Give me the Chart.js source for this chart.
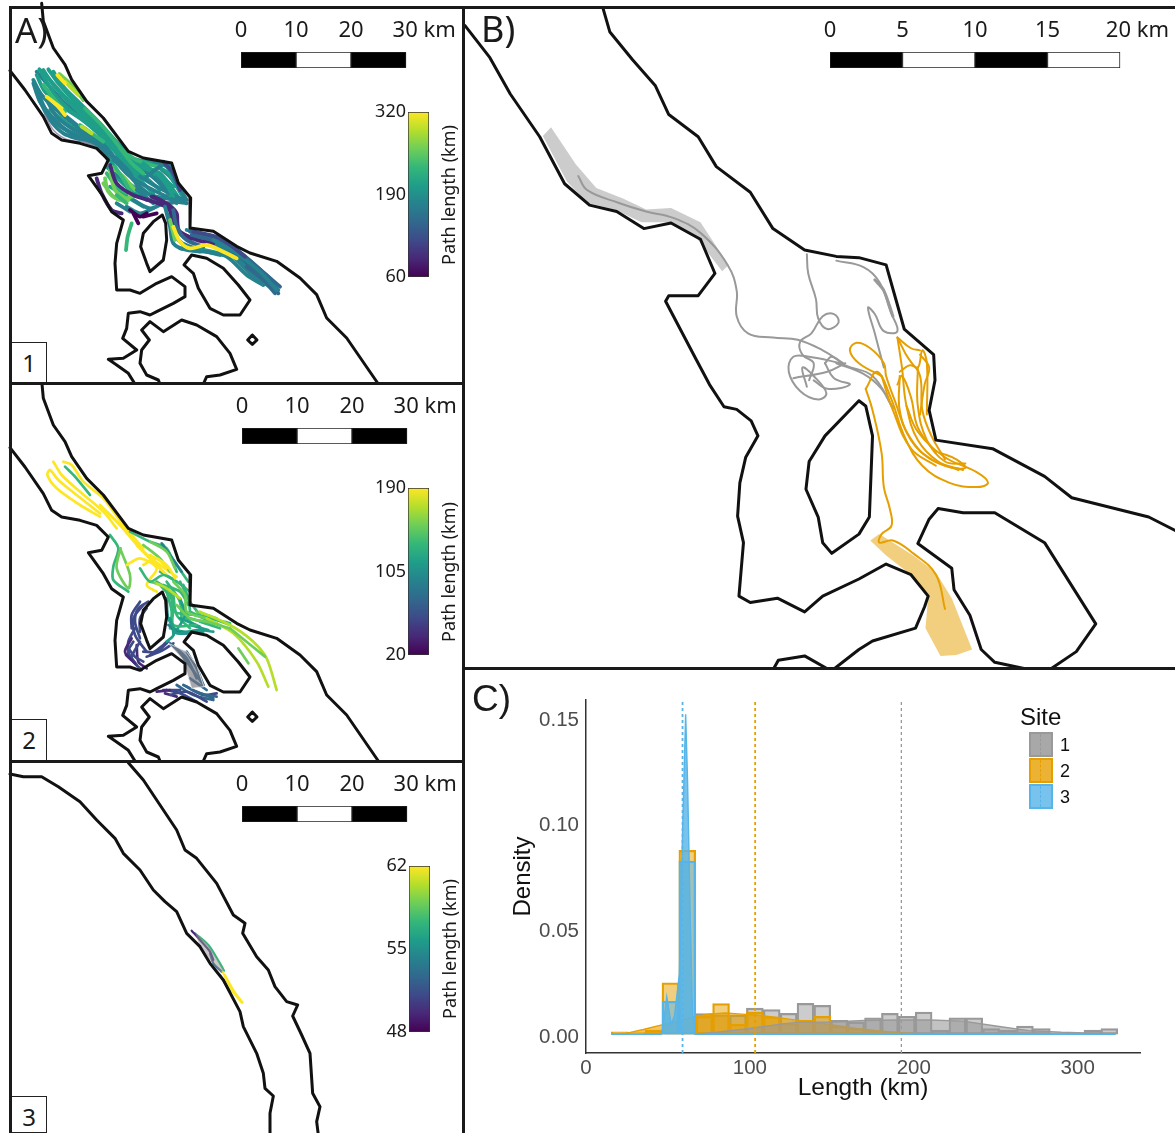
<!DOCTYPE html>
<html>
<head>
<meta charset="utf-8">
<title>Path lengths</title>
<script src="https://cdn.jsdelivr.net/npm/chart.js@4/dist/chart.umd.js"></script>
<style>
  html, body { margin: 0; padding: 0; background: #fff; width: 1175px; height: 1133px; overflow: hidden; }
  canvas { position: absolute; }
  .rule { position: absolute; background: #1a1a1a; }
  .txt { position: absolute; white-space: nowrap; font-family: "Noto Sans", sans-serif; color: #1a1a1a; line-height: 1; }
  .inset { position: absolute; width: 36px; background: #fff; border: 1px solid #222; box-sizing: border-box; }
  .key { position: absolute; left: 1029px; width: 24px; height: 25px; box-sizing: border-box; border-width: 2px; border-style: solid; }
  .key i { position: absolute; left: 9px; top: 0; bottom: 0; border-left-width: 1px; border-left-style: dashed; }
</style>
</head>
<body>
<script>
// ---- map outlines, in map grid units ----
const coastEast = [[125,10],[130,64],[160,144],[195,194],[215,239],[260,304],[310,354],[385,454],[430,474],[515,489],[535,549],[572,594],[570,684],[640,694],[710,739],[750,759],[830,784],[900,834],[950,884],[980,954],[1040,1014],[1135,1152]];
const coastWest = [[30,212],[75,270],[130,350],[155,400],[185,420],[240,430],[290,445],[325,480],[305,520],[265,527],[310,590],[335,635],[370,660],[350,730],[345,790],[350,870],[390,870],[420,880],[470,850],[515,830],[555,860],[555,890],[520,910],[470,935],[450,945],[420,935],[385,940],[380,985],[368,1015],[410,1050],[370,1075],[325,1078],[350,1095],[385,1120],[405,1152]];
const coastSouth = [[610,1152],[620,1130],[660,1125],[710,1108],[690,1060],[650,1010],[590,975],[545,960],[490,995],[450,965],[425,990],[448,1020],[425,1050],[420,1090],[440,1125],[475,1140],[480,1152]];
const islandNorth = [[487,645],[460,665],[430,700],[422,740],[440,790],[450,815],[490,780],[500,720],[497,670],[487,645]];
const islandEast = [[575,765],[552,795],[580,820],[595,865],[630,925],[670,945],[720,945],[750,900],[715,855],[670,805],[620,775],[575,765]];
const islet = [[757,1005],[743,1020],[757,1033],[771,1020],[757,1005]];

const site3West = [[30,42],[70,50],[125,50],[175,80],[240,125],[290,180],[345,235],[370,280],[420,330],[460,390],[495,425],[530,455],[560,520],[600,560],[630,610],[670,660],[720,755],[730,800],[770,880],[790,940],[795,985],[820,1008],[810,1060],[810,1125]];
const site3East = [[385,8],[430,60],[480,135],[530,210],[555,270],[590,295],[650,370],[700,465],[735,490],[728,520],[770,590],[805,630],[825,680],[860,725],[893,735],[878,768],[905,825],[930,880],[938,1000],[960,1040],[950,1085],[955,1125]];

const zoomEast = [[305,20],[320,75],[370,140],[420,200],[450,268],[515,320],[555,390],[630,450],[680,535],[750,585],[820,600],[870,603],[930,620],[970,770],[1035,830],[1038,890],[1025,960],[1040,1030],[1165,1050],[1280,1115],[1340,1165],[1510,1210],[1575,1245]];
const zoomWest = [[0,60],[55,135],[100,220],[165,320],[220,430],[275,480],[335,495],[395,535],[455,522],[520,560],[552,640],[515,692],[450,692],[443,705],[510,840],[540,900],[572,952],[600,958],[632,985],[647,1020],[620,1070],[607,1130],[602,1208],[615,1270],[605,1395],[630,1410],[690,1400],[750,1432],[790,1395],[870,1355],[930,1320],[985,1345],[1023,1395],[1015,1420],[995,1470],[900,1500],[870,1520],[812,1568]];
const zoomSouth = [[680,1568],[692,1545],[750,1535],[805,1568]];
const zoomIslandN = [[870,938],[795,1020],[760,1080],[753,1145],[780,1210],[790,1270],[810,1295],[870,1250],[893,1210],[900,1020],[885,950],[870,938]];
const zoomIslandE = [[1045,1190],[1025,1215],[1000,1272],[1075,1330],[1080,1380],[1115,1440],[1140,1520],[1170,1550],[1250,1568],[1290,1568],[1350,1525],[1393,1460],[1280,1270],[1170,1200],[1100,1200],[1045,1190]];

// ---- panel A1 tracks: [path length km, path], later entries sit on top ----
const a1Tracks = [
  [188,[[110,215],[140,250],[185,300],[235,345],[290,395],[340,440]]],
  [192,[[130,210],[160,255],[205,305],[260,350],[315,400],[370,465],[420,500]]],
  [180,[[100,250],[120,305],[155,350],[205,395],[260,420],[310,450]]],
  [175,[[118,300],[150,360],[190,400],[245,420],[300,440]]],
  [200,[[160,215],[190,260],[240,310],[290,360],[345,420],[400,480]]],
  [188,[[200,350],[250,390],[300,420],[350,480],[400,540]]],
  [195,[[150,330],[195,365],[250,405],[300,445],[345,500]]],
  [192,[[220,320],[270,370],[320,420],[370,485],[420,540]]],
  [190,[[320,500],[380,560],[440,600]]],
  [185,[[345,520],[400,560],[460,610]]],
  [195,[[360,490],[420,520],[480,570]]],
  [190,[[400,480],[450,510],[510,580]]],
  [185,[[460,490],[510,530],[550,590]]],
  [190,[[330,560],[380,590],[430,620]]],
  [180,[[400,600],[450,625],[490,610]]],
  [185,[[380,620],[420,640],[460,625]]],
  [175,[[350,610],[390,635]]],
  [180,[[470,530],[520,600],[560,610]]],
  [190,[[420,500],[470,540],[530,610]]],
  [185,[[340,480],[380,510],[420,560],[470,600]]],
  [192,[[430,500],[480,520],[520,570],[540,600]]],
  [188,[[400,500],[450,525],[500,570]]],
  [180,[[440,480],[500,500],[530,560]]],
  [195,[[380,490],[420,540],[460,580]]],
  [185,[[350,470],[390,520],[430,590]]],
  [180,[[420,590],[480,610],[545,605]]],
  [165,[[510,640],[520,700],[550,735]]],
  [170,[[530,650],[540,700],[580,730]]],
  [175,[[560,690],[620,705],[680,735]]],
  [165,[[590,710],[650,735],[700,760]]],
  [170,[[545,730],[600,750],[660,765]]],
  [175,[[680,750],[730,790],[790,840]]],
  [165,[[700,770],[750,820],[810,860]]],
  [170,[[730,770],[780,810],[835,870]]],
  [160,[[740,800],[790,840],[825,880]]],
  [170,[[650,720],[720,760],[790,820]]],
  [195,[[590,745],[660,760]]],
  [160,[[700,740],[760,790],[815,840]]],
  [200,[[540,745],[600,755]]],
  [190,[[118,208],[150,240],[190,285],[240,330],[300,385],[355,450],[410,495],[470,520],[520,560]]],
  [185,[[100,240],[125,285],[175,335],[225,375],[285,420],[335,470],[385,525],[440,560],[500,590]]],
  [180,[[108,262],[135,325],[175,375],[230,405],[285,430],[325,475]]],
  [198,[[110,225],[135,275],[180,315],[240,355],[300,405],[345,455],[400,510],[450,545]]],
  [170,[[140,300],[170,350],[215,385],[270,415],[320,460]]],
  [198,[[145,208],[175,250],[225,305],[280,355],[335,420],[385,470],[450,490],[505,520],[545,585]]],
  [205,[[125,220],[165,285],[215,335],[285,385],[345,445],[405,505],[440,535]]],
  [170,[[420,530],[470,560],[530,590],[555,600]]],
  [215,[[170,235],[205,280],[245,325],[295,370]]],
  [225,[[255,325],[305,375],[350,430],[395,490],[430,520]]],
  [235,[[240,375],[275,400],[310,425]]],
  [225,[[360,445],[410,480],[470,500]]],
  [255,[[335,500],[370,530],[405,570]]],
  [235,[[320,520],[350,560],[380,580]]],
  [225,[[345,500],[375,545],[400,590]]],
  [255,[[310,550],[340,590],[375,605]]],
  [265,[[315,535],[325,575],[360,600],[395,590]]],
  [255,[[330,510],[345,570],[385,600]]],
  [240,[[350,585],[380,610]]],
  [190,[[430,490],[490,540],[520,590]]],
  [180,[[410,570],[470,590],[530,600]]],
  [170,[[440,530],[500,490],[525,540],[560,600]]],
  [240,[[130,255],[165,300],[195,335]]],
  [270,[[178,222],[215,255],[250,300]]],
  [290,[[195,245],[235,285]]],
  [315,[[172,225],[195,250]]],
  [310,[[140,290],[165,310],[185,325]]],
  [315,[[175,320],[195,345]]],
  [300,[[245,380],[275,400]]],
  [110,[[490,485],[520,520],[540,570]]],
  [90,[[290,535],[305,580],[335,630],[365,640]]],
  [75,[[330,495],[350,550],[400,585],[460,605],[505,625],[520,660],[530,690],[575,715]]],
  [85,[[460,590],[500,610],[530,640],[535,690],[590,720],[640,730]]],
  [68,[[390,630],[420,650],[440,640]]],
  [62,[[400,640],[415,670]]],
  [65,[[430,650],[470,640]]],
  [78,[[455,590],[480,600],[505,620]]],
  [230,[[395,670],[383,710],[378,750]]],
  [180,[[495,620],[510,680],[520,730],[560,750],[620,755]]],
  [160,[[520,630],[530,680],[560,720],[610,740]]],
  [255,[[510,660],[525,720]]],
  [160,[[570,695],[640,710],[710,750],[770,800],[840,860]]],
  [135,[[575,705],[650,725],[720,770],[785,830],[835,880]]],
  [175,[[620,755],[680,770],[740,825],[790,855]]],
  [175,[[640,720],[710,760],[780,815],[830,870]]],
  [110,[[580,695],[660,715],[735,770]]],
  [310,[[520,680],[540,725],[570,745],[620,735],[670,755],[710,775]]]
];
const a1Shore = [[135,345],[160,390],[200,418],[260,428],[300,450],[325,490]];

// ---- panel A2 tracks ----
const a2Tracks = [
  [55,[[440,670],[420,700],[420,740]]],
  [60,[[420,650],[395,690],[395,730]]],
  [50,[[400,770],[385,800],[410,840]]],
  [45,[[410,780],[415,830],[440,850]]],
  [55,[[385,790],[405,815],[430,830]]],
  [65,[[450,810],[490,780],[500,770]]],
  [60,[[445,650],[415,670],[405,710],[420,760]]],
  [55,[[430,660],[400,700],[405,750],[440,800]]],
  [60,[[405,730],[385,770],[385,810]]],
  [45,[[395,760],[375,800],[395,825]]],
  [50,[[420,770],[395,820],[425,855]]],
  [55,[[430,800],[470,800],[505,770]]],
  [65,[[440,815],[480,800],[520,775]]],
  [35,[[378,810],[405,835]]],
  [120,[[500,640],[505,700],[530,740]]],
  [130,[[520,630],[530,690],[570,730]]],
  [125,[[540,650],[560,700],[610,735]]],
  [135,[[550,600],[570,650],[600,690]]],
  [115,[[515,730],[550,740],[610,740]]],
  [125,[[500,590],[540,650],[545,710]]],
  [140,[[540,590],[565,640],[570,680]]],
  [100,[[520,740],[560,745]]],
  [145,[[590,680],[650,700]]],
  [150,[[610,690],[690,720]]],
  [135,[[600,710],[660,730]]],
  [125,[[500,620],[515,680],[510,730]]],
  [115,[[540,640],[555,690],[520,750]]],
  [110,[[510,700],[520,750],[500,770]]],
  [95,[[505,720],[540,745],[590,740]]],
  [130,[[570,680],[610,700],[650,715]]],
  [140,[[570,700],[640,720]]],
  [120,[[540,700],[600,725]]],
  [105,[[570,720],[625,735]]],
  [135,[[490,480],[530,540],[565,590]]],
  [130,[[480,560],[530,590],[570,620]]],
  [140,[[490,600],[540,620],[565,660]]],
  [150,[[450,590],[490,605],[520,650]]],
  [80,[[510,775],[560,820],[590,880]]],
  [75,[[530,790],[575,850],[610,900]]],
  [70,[[560,800],[590,850],[610,900]]],
  [60,[[500,915],[540,925],[590,950]]],
  [70,[[530,900],[580,930],[640,945]]],
  [65,[[560,905],[610,930],[650,925]]],
  [40,[[495,925],[530,935]]],
  [80,[[590,920],[640,940]]],
  [60,[[510,930],[560,920],[620,950]]],
  [70,[[550,900],[600,925],[650,935]]],
  [50,[[490,915],[540,915]]],
  [80,[[570,880],[620,915]]],
  [40,[[470,920],[510,915]]],
  [185,[[300,395],[240,360],[170,310],[142,270],[150,255],[175,285],[230,330],[300,385]]],
  [185,[[160,230],[185,270],[240,320],[310,380],[350,430]]],
  [185,[[190,230],[215,240],[250,290],[310,340],[370,420],[430,490]]],
  [135,[[195,245],[225,275],[270,330]]],
  [185,[[300,360],[360,420],[420,490],[480,540],[530,575]]],
  [185,[[320,380],[380,440],[440,510],[500,570]]],
  [140,[[390,440],[450,470],[500,490],[530,560]]],
  [150,[[430,480],[480,520],[510,560]]],
  [90,[[485,475],[510,510],[545,560]]],
  [135,[[330,450],[355,490],[340,545],[340,585],[385,620]]],
  [145,[[360,490],[390,570],[385,610],[350,550],[362,490]]],
  [185,[[380,540],[420,520],[470,550],[440,600],[470,620]]],
  [130,[[420,550],[450,590],[490,570],[530,590]]],
  [185,[[410,480],[450,520],[490,560]]],
  [185,[[450,510],[500,540],[525,580]]],
  [185,[[430,540],[470,520],[500,550]]],
  [150,[[450,470],[500,500],[525,550]]],
  [135,[[470,590],[510,620],[525,680],[590,690],[690,715]]],
  [125,[[480,600],[520,650],[520,720],[590,720]]],
  [150,[[520,590],[555,630],[560,680],[620,700]]],
  [115,[[510,700],[530,745],[590,735],[640,740]]],
  [165,[[600,680],[690,720],[760,770],[800,820],[830,915]]],
  [165,[[620,700],[700,745],[770,830],[805,905]]],
  [145,[[690,730],[795,815]]],
  [160,[[715,790],[745,835]]],
  [160,[[530,660],[570,700],[620,710],[690,730]]],
  [165,[[470,595],[500,610],[540,640]]]
];
const a2Channel = [[505,775],[560,800],[590,840],[612,905],[575,910],[560,860],[545,820],[505,775]];

// ---- panel A3 tracks ----
const a3Tracks = [
  [58,[[585,520],[625,555],[660,610],[672,632]]],
  [52,[[630,580],[640,610],[665,635]]],
  [56,[[660,645],[690,695]]],
  [62,[[668,635],[695,690],[725,728]]],
  [62,[[675,645],[700,690],[728,728]]],
  [49,[[575,512],[600,540],[630,575],[640,600]]]
];
const a3Haze = [[585,518],[620,550],[672,630],[665,640],[630,600],[600,560],[585,518]];

// ---- panel B tracks ----
const siteGreyBand = [[190,298],[245,385],[290,440],[350,465],[400,490],[455,487],[520,520],[582,620],[568,635],[510,555],[450,520],[390,520],[330,490],[270,475],[225,425],[172,318],[190,298]];
const siteOrangeBand = [[915,1250],[990,1300],[1040,1340],[1075,1400],[1120,1520],[1085,1533],[1050,1535],[1017,1470],[1023,1395],[985,1345],[930,1300],[895,1265],[915,1250]];
const greyPaths = [
  [[250,412],[270,445],[340,475],[400,495],[460,510],[520,545],[580,620],[600,680],[600,740],[625,780],[680,790],[735,795],[790,820],[835,850]],
  [[755,595],[758,640],[775,700],[780,745],[800,770],[825,755],[815,735],[790,740],[765,780],[740,800],[745,830],[770,850],[760,890]],
  [[820,610],[880,625],[915,660],[940,730],[955,775],[925,775],[905,735],[890,720],[905,780],[925,860]],
  [[830,850],[760,835],[725,835],[715,870],[740,915],[780,935],[798,920],[770,880],[745,860],[755,905]],
  [[725,885],[800,870],[840,850]],
  [[795,850],[810,835],[840,855],[900,880],[945,955]],
  [[795,850],[815,885],[850,900],[800,910],[770,890]],
  [[820,850],[880,875],[920,910],[945,955]]
];
const greyShort = [[905,655],[925,680],[945,740]];
const orangePaths = [
  [[920,880],[870,850],[850,820],[865,802],[895,815],[925,850],[930,880],[950,940],[975,1010],[1010,1060],[1060,1090],[1105,1095],[1085,1075],[1050,1060]],
  [[955,790],[980,840],[1000,860],[1010,820],[1020,850],[1020,970]],
  [[955,790],[965,860],[975,950],[1000,1030],[1045,1080],[1100,1100]],
  [[960,870],[985,855],[1005,880],[1010,960],[1030,1020],[1060,1075]],
  [[885,910],[910,870],[940,930],[970,1020],[1010,1090],[1070,1130],[1130,1140],[1155,1130],[1130,1105],[1060,1070],[1000,1010],[975,950]],
  [[885,910],[900,960],[920,1060],[925,1140],[938,1190],[942,1230],[920,1250],[915,1270],[945,1265],[990,1295],[1040,1345],[1060,1425]],
  [[955,900],[965,880],[985,930],[1000,1000],[1040,1060]],
  [[1005,830],[1025,860],[1015,900],[1005,970]],
  [[1000,860],[1000,950],[1020,1030],[1060,1080],[1105,1085]],
  [[960,880],[960,960],[985,1030],[1030,1075],[1090,1100]],
  [[920,880],[945,960],[985,1050],[1040,1090]],
  [[955,790],[985,815],[1005,820]]
];

// ---- panel C histogram and density ----
const binCentres = [20.6,30.9,41.2,51.5,61.8,72.1,82.4,92.7,103,113.3,123.6,133.9,144.2,154.5,164.8,175.1,185.4,195.7,206,216.3,226.6,236.9,247.2,257.5,267.8,278.1,288.4,298.7,309,319.3];
const greyBins = [null,null,null,null,null,.0111,.0105,.0103,.0137,.0130,.0112,.0159,.0150,.0079,.0071,.0090,.0112,.0098,.0118,.0032,.0090,.0090,.0040,.0032,.0051,.0040,.0018,.0018,.0032,.0040];
const orangeBins = [.0024,.0021,.0032,.0256,.0883,.0098,.0158,.0060,.0118,.0095,.0063,.0079,.0098,.0050,.0040,.0030,.0025,.0020,.0015,null,null,null,null,null,null,null,null,null,null,null];
const blueBins = [null,null,null,.0169,.0833,null,null,null,null,null,null,null,null,null,null,null,null,null,null,null,null,null,null,null,null,null,null,null,null,null];
const greyDensityX = [66,80,100,120,130,150,170,190,210,230,250,270,290,310,323];
const greyDensityY = [.0013,.0022,.0040,.0062,.0070,.0071,.0078,.0080,.0080,.0075,.0052,.0030,.0022,.0018,.0014];
const orangeDensityX = [15.4,25,35,45,55,65,75,85,95,105,115,125,135,145,155,165,175,185,195,205,323];
const orangeDensityY = [.0013,.0018,.0035,.0055,.0072,.0095,.0108,.0113,.0108,.0103,.0093,.0083,.0073,.0063,.0052,.0040,.0032,.0024,.0018,.0013,.0013];
const blueDensityX = [15.4,45.9,47,49.3,52,54,57,59,60.8,62,63.5,65,67,323];
const blueDensityY = [.0013,.0013,.0050,.0190,.0060,.0100,.0300,.1000,.1528,.1200,.0600,.0100,.0013,.0013];
const meanLengths = [192.4,103.2,58.9];
const densityBase = .0013;
const lengthTicks = [0,100,200,300];
const densityTicks = [0,.05,.1,.15];
const siteNames = ['1','2','3'];
const siteLine = ['#999999','#E69F00','#56B4E9'];
const siteHist = ['rgba(153,153,153,.5)','rgba(230,159,0,.5)','rgba(86,180,233,.5)'];
const siteDensity = ['rgba(153,153,153,.6)','rgba(230,159,0,.6)','rgba(86,180,233,.8)'];
const siteKey = ['rgba(153,153,153,.85)','rgba(230,159,0,.8)','rgba(86,180,233,.8)'];

const viridis = ['#440154','#482878','#3e4a89','#31688e','#26828e','#1f9e89','#35b779','#6ece58','#b5de2b','#fde725'];

Chart.defaults.font.family = '"Noto Sans", sans-serif';
Chart.defaults.animation = false;

function addCanvas(left, top, w, h) {
  const c = document.createElement('canvas');
  c.width = w;
  c.height = h;
  c.style.left = left + 'px';
  c.style.top = top + 'px';
  c.style.width = w + 'px';
  c.style.height = h + 'px';
  document.body.appendChild(c);
  return c;
}

function addText(text, left, top, css) {
  const d = document.createElement('div');
  d.className = 'txt';
  d.textContent = text;
  d.style.left = left + 'px';
  d.style.top = top + 'px';
  d.style.cssText += css || '';
  document.body.appendChild(d);
}

function addRule(left, top, w, h) {
  const d = document.createElement('div');
  d.className = 'rule';
  d.style.cssText = `left:${left}px;top:${top}px;width:${w}px;height:${h}px`;
  document.body.appendChild(d);
}

function lengthColour(len, lo, hi) {
  const i = Math.round((len - lo) / (hi - lo) * (viridis.length - 1));
  return viridis[Math.max(0, Math.min(viridis.length - 1, i))];
}

function pathSet(path, color, width, yShift, tension) {
  return {
    data: path.map(p => ({ x: p[0], y: p[1] - (yShift || 0) })),
    showLine: true,
    borderColor: color,
    borderWidth: width,
    pointRadius: 0,
    tension: tension || 0,
    borderCapStyle: 'round',
    borderJoinStyle: 'round'
  };
}

function shapeSet(path, fillColor, lineColor, width, yShift) {
  const s = pathSet(path, lineColor || 'rgba(0,0,0,0)', width || 0, yShift);
  s.backgroundColor = fillColor;
  s.fill = 'shape';
  return s;
}

function coastSets(paths, width, yShift) {
  return paths.map(p => pathSet(p, '#111', width, yShift));
}

// every map panel is a scatter chart with hidden axes over its map grid
function makeMap(left, top, w, h, xMax, yMax, datasets) {
  return new Chart(addCanvas(left, top, w, h), {
    type: 'scatter',
    data: { datasets: datasets },
    options: {
      responsive: false,
      layout: { padding: 0 },
      plugins: { legend: { display: false }, tooltip: { enabled: false } },
      scales: {
        x: { type: 'linear', display: false, min: 0, max: xMax },
        y: { type: 'linear', display: false, reverse: true, min: 0, max: yMax }
      }
    }
  });
}

function makeScaleBar(left, top, w, barLeft, barWidth, segs, tickVals, tickLabels, xMax) {
  const colours = ['#000', '#fff'];
  new Chart(addCanvas(left, top, w, 60), {
    type: 'bar',
    data: {
      labels: ['bar'],
      datasets: segs.map((s, i) => ({
        data: [s],
        backgroundColor: colours[i % 2],
        borderColor: '#222',
        borderWidth: 1,
        borderSkipped: false,
        barPercentage: 1,
        categoryPercentage: 1
      }))
    },
    options: {
      indexAxis: 'y',
      responsive: false,
      layout: { padding: { left: barLeft - left, right: w - (barLeft - left) - barWidth * xMax / segs.reduce((a, b) => a + b, 0), bottom: 2 } },
      plugins: { legend: { display: false }, tooltip: { enabled: false } },
      scales: {
        y: { stacked: true, display: false },
        x: {
          stacked: true,
          position: 'top',
          min: 0,
          max: xMax,
          grid: { display: false, drawTicks: false },
          border: { display: false },
          afterFit: s => { s.height = 42; s.paddingLeft = 0; s.paddingRight = 0; },
          afterBuildTicks: s => { s.ticks = tickVals.map(v => ({ value: v })); },
          ticks: {
            autoSkip: false,
            maxRotation: 0,
            padding: 8,
            color: '#1a1a1a',
            font: { size: 22 },
            callback: (v, i) => tickLabels[i]
          }
        }
      }
    }
  });
}

function makeColourBar(barTop, barH, barLeft, lo, hi, tickVals) {
  const left = 365;
  new Chart(addCanvas(left, barTop - 14, 70, barH + 28), {
    type: 'bar',
    data: {
      labels: ['km'],
      datasets: [{
        data: [[lo, hi]],
        backgroundColor: ctx => {
          const a = ctx.chart.chartArea;
          if (!a) return '#26828e';
          const g = ctx.chart.ctx.createLinearGradient(0, a.bottom, 0, a.top);
          viridis.forEach((c, i) => g.addColorStop(i / (viridis.length - 1), c));
          return g;
        },
        borderColor: '#333',
        borderWidth: 1,
        borderSkipped: false,
        barPercentage: 1,
        categoryPercentage: 1
      }]
    },
    options: {
      responsive: false,
      layout: { padding: { top: 14, bottom: 14, right: 70 - (barLeft - left) - 21 } },
      plugins: { legend: { display: false }, tooltip: { enabled: false } },
      scales: {
        x: { display: false },
        y: {
          min: lo,
          max: hi,
          grid: { display: false, drawTicks: false },
          border: { display: false },
          afterFit: s => { s.width = barLeft - left; },
          afterBuildTicks: s => { s.ticks = tickVals.map(v => ({ value: v })); },
          ticks: { autoSkip: false, padding: 2, color: '#1a1a1a', font: { size: 18 }, callback: v => String(v) }
        }
      }
    }
  });
}

function trackSets(tracks, lo, hi, width, yShift) {
  return tracks.map(t => pathSet(t[1], lengthColour(t[0], lo, hi), width, yShift, .3)).reverse();
}

// ---- A1 ----
const worldPaths = [coastEast, coastWest, coastSouth, islandNorth, islandEast, islet];
makeMap(0, 0, 465, 385, 1395, 1155, [
  ...coastSets(worldPaths, 3, 0),
  pathSet(a1Shore, 'rgba(150,140,170,.9)', 1.5, 0, .3),
  ...trackSets(a1Tracks, 60, 320, 3.8, 0)
]);

// ---- A2 ----
makeMap(0, 385, 465, 380, 1395, 1140, [
  ...coastSets(worldPaths, 3, 24),
  shapeSet(a2Channel, 'rgba(120,120,130,.65)', 'rgba(235,235,235,.8)', 1, 0),
  ...trackSets(a2Tracks, 20, 190, 2.7, 0)
]);

// ---- A3 ----
makeMap(0, 760, 465, 373, 1395, 1119, [
  ...coastSets([site3West, site3East], 3, 0),
  shapeSet(a3Haze, 'rgba(150,150,150,.5)', null, 0, 0),
  ...trackSets(a3Tracks, 48, 62, 2.2, 0)
]);

// ---- B ----
makeMap(465, 0, 710, 670, 1568, 1568, [
  ...coastSets([zoomEast, zoomWest, zoomSouth, zoomIslandN, zoomIslandE], 3, 0),
  ...orangePaths.map(p => pathSet(p, '#E69F00', 2, 0, .4)),
  ...greyPaths.map(p => pathSet(p, '#999999', 2, 0, .4)),
  pathSet(greyShort, '#999999', 3, 0, .3),
  shapeSet(siteGreyBand, 'rgba(153,153,153,.5)', null, 0, 0),
  shapeSet(siteOrangeBand, 'rgba(230,159,0,.5)', null, 0, 0)
]);

// ---- C ----
function binData(values) {
  return binCentres.map((x, i) => ({ x: x, y: values[i] }));
}
function histSet(values, i) {
  return {
    type: 'bar',
    data: binData(values),
    base: densityBase,
    backgroundColor: siteHist[i],
    borderColor: siteLine[i],
    borderWidth: 1.6,
    borderSkipped: false,
    barPercentage: 1,
    categoryPercentage: 1,
    grouped: false
  };
}
function densitySet(xs, ys, i) {
  return {
    type: 'line',
    data: xs.map((x, k) => ({ x: x, y: ys[k] })),
    borderColor: siteLine[i],
    borderWidth: 1.4,
    backgroundColor: siteDensity[i],
    fill: { value: densityBase },
    pointRadius: 0,
    tension: 0
  };
}
function meanSet(x, i) {
  return {
    type: 'line',
    data: [{ x: x, y: -.0076 }, { x: x, y: .1595 }],
    borderColor: siteLine[i],
    borderWidth: i === 0 ? 1.3 : 1.8,
    borderDash: [3, 3],
    pointRadius: 0
  };
}

new Chart(addCanvas(465, 670, 710, 463), {
  type: 'bar',
  data: {
    datasets: [
      meanSet(meanLengths[2], 2),
      meanSet(meanLengths[1], 1),
      meanSet(meanLengths[0], 0),
      densitySet(blueDensityX, blueDensityY, 2),
      histSet(blueBins, 2),
      densitySet(greyDensityX, greyDensityY, 0),
      densitySet(orangeDensityX, orangeDensityY, 1),
      histSet(orangeBins, 1),
      histSet(greyBins, 0)
    ]
  },
  options: {
    responsive: false,
    layout: { padding: { top: 30, right: 35 } },
    plugins: { legend: { display: false }, tooltip: { enabled: false } },
    scales: {
      x: {
        type: 'linear',
        offset: false,
        min: 0,
        max: 338,
        grid: { display: false, tickColor: '#333', tickLength: 3 },
        border: { color: '#333', width: 1.5 },
        afterFit: s => { s.height = 80; s.paddingLeft = 0; s.paddingRight = 0; },
        afterBuildTicks: s => { s.ticks = lengthTicks.map(v => ({ value: v })); },
        ticks: { autoSkip: false, maxRotation: 0, padding: 0, color: '#4d4d4d', font: { family: '"Liberation Sans"', size: 20.5 }, callback: v => String(v) },
        title: { display: true, text: 'Length (km)', color: '#111', font: { family: '"Liberation Sans"', size: 24.5 }, padding: { top: 4, bottom: 30 } }
      },
      y: {
        type: 'linear',
        min: -.0076,
        max: .1595,
        grid: { display: false, tickColor: '#333', tickLength: 3 },
        border: { color: '#333', width: 1.5 },
        afterFit: s => { s.width = 121; },
        afterBuildTicks: s => { s.ticks = densityTicks.map(v => ({ value: v })); },
        ticks: { autoSkip: false, padding: 4, color: '#4d4d4d', font: { family: '"Liberation Sans"', size: 20.5 }, callback: v => v.toFixed(2) },
        title: { display: true, text: 'Density', color: '#111', font: { family: '"Liberation Sans"', size: 24 }, padding: { top: 44, bottom: 0 } }
      }
    }
  }
});

// ---- scale bars and colour bars ----
const kmTicks = [0,10,20,33.3];
const kmLabels = ['0','10','20','30 km'];
const kmSegs = [10,10,10];
makeScaleBar(211, 10, 250, 241, 165, kmSegs, kmTicks, kmLabels, 40);
makeScaleBar(212, 386, 250, 242, 165, kmSegs, kmTicks, kmLabels, 40);
makeScaleBar(212, 764, 250, 242, 165, kmSegs, kmTicks, kmLabels, 40);
makeScaleBar(800, 10, 375, 830, 290, [5,5,5,5], [0,5,10,15,21.2], ['0','5','10','15','20 km'], 23);

makeColourBar(112, 165, 408, 60, 320, [60,190,320]);
makeColourBar(488, 167, 408, 20, 190, [20,105,190]);
makeColourBar(866, 166, 409, 48, 62, [48,55,62]);

// ---- colour bar titles, panel letters, insets ----
const vertical = 'transform:translate(-50%,-50%) rotate(-90deg);font-size:18px;';
addText('Path length (km)', 448, 195, vertical);
addText('Path length (km)', 448, 572, vertical);
addText('Path length (km)', 449, 949, vertical);

addText('A)', 15, 12, 'font-size:35px;');
addText('B)', 481, 11, 'font-size:36px;');
addText('C)', 472, 680, 'font-size:37px;font-family:"Liberation Sans";');

[[342, '1'], [719, '2'], [1096, '3']].forEach(r => {
  const box = document.createElement('div');
  box.className = 'inset';
  box.style.cssText = `left:11px;top:${r[0]}px;height:${r[1] === '3' ? 37 : 42}px`;
  document.body.appendChild(box);
  addText(r[1], 29, r[0] + 21, 'transform:translate(-50%,-50%);font-size:24px;');
});

// panel frames
addRule(9, 6, 1166, 3);
addRule(9, 6, 3, 1127);
addRule(462, 6, 3, 1127);
addRule(10, 382, 454, 3);
addRule(10, 760, 454, 3);
addRule(463, 667, 712, 3);

// ---- legend for panel C ----
addText('Site', 1020, 705, 'font-size:24px;font-family:"Liberation Sans";color:#111;');
siteNames.forEach((name, i) => {
  const k = document.createElement('div');
  k.className = 'key';
  k.style.top = (732 + i * 26) + 'px';
  k.style.borderColor = siteLine[i];
  k.style.background = siteKey[i];
  const dash = document.createElement('i');
  dash.style.borderLeftColor = siteLine[i];
  k.appendChild(dash);
  document.body.appendChild(k);
  addText(name, 1060, 736 + i * 26, 'font-size:18px;font-family:"Liberation Sans";color:#111;');
});
</script>
</body>
</html>
